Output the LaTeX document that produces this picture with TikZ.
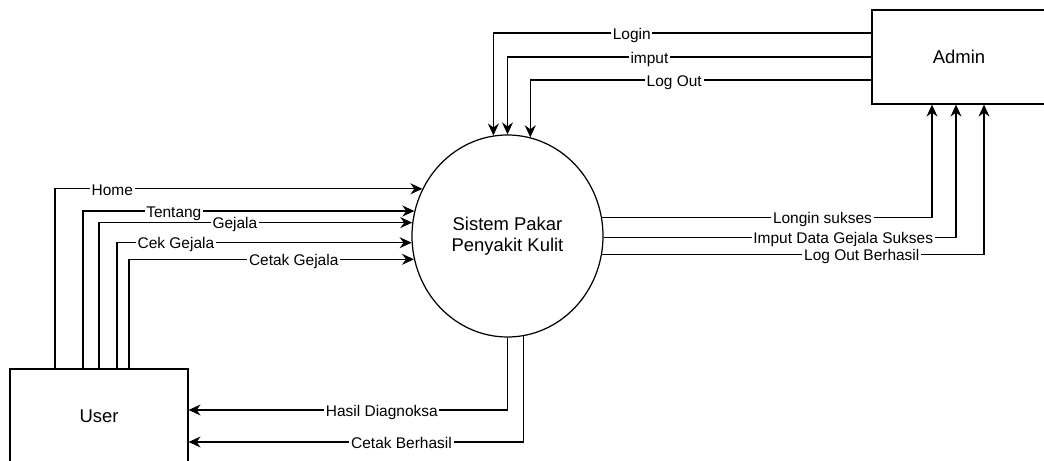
\documentclass[tikz,border=0pt]{standalone}
\usepackage{fontspec}
\setmainfont{Liberation Sans}
\usetikzlibrary{arrows.meta,positioning,shapes.geometric}
\tikzset{
  entity/.style={draw,line width=0.7pt,minimum width=3.56cm,minimum height=1.88cm,
    font=\fontsize{10.5}{12}\selectfont},
  process/.style={draw,ellipse,line width=0.7pt,minimum width=3.82cm,
    minimum height=4.04cm,inner sep=0pt,align=center,font=\fontsize{10.5}{12}\selectfont},
  flow/.style={-{Stealth[length=0.24cm,width=0.22cm,inset=0.08cm]},line width=0.7pt},
  lbl/.style={fill=white,inner sep=1pt,text height=0.74em,text depth=0.03em,
    font=\fontsize{8.8}{10}\selectfont}
}

\begin{document}
\begin{tikzpicture}
  \useasboundingbox (-10.15,-4.5) rectangle (10.73,4.72);
  \node[process] (sys) at (0,0) {Sistem Pakar\\Penyakit Kulit};
  \node[entity,minimum width=3.48cm] (admin) at (9.03,3.58) {Admin};
  \node[entity] (usr) at (-8.17,-3.6) {User};

  % user -> sistem
  \draw[flow] ([xshift=-0.88cm]usr.north) |- node[lbl,pos=0.578] {Home} (sys.151.58);
  \draw[flow] ([xshift=-0.32cm]usr.north) |- node[lbl,pos=0.637] {Tentang} (sys.165.5);
  \draw[flow] (usr.north) |- node[lbl,pos=0.717] {Gejala} (sys.172.8);
  \draw[flow] ([xshift=0.36cm]usr.north) |- node[lbl,pos=0.6] {Cek Gejala} (sys.184.2);
  \draw[flow] ([xshift=0.6cm]usr.north) |- node[lbl,pos=0.789] {Cetak Gejala} (sys.194.5);

  % admin -> sistem
  \draw[flow] ([yshift=0.48cm]admin.west) -| node[lbl,pos=0.317] {Login} (sys.98.26);
  \draw[flow] (admin.west) -| node[lbl,pos=0.305] {imput} (sys.north);
  \draw[flow] ([yshift=-0.46cm]admin.west) -| node[lbl,pos=0.289] {Log Out} (sys.77.09);

  % sistem -> admin
  \draw[flow] (sys.11.45) -| node[lbl,pos=0.334] {Longin sukses} ([xshift=-0.54cm]admin.south);
  \draw[flow] (sys.359.4) -| node[lbl,pos=0.34] {Imput Data Gejala Sukses} ([xshift=-0.06cm]admin.south);
  \draw[flow] (sys.349.16) -| node[lbl,pos=0.34] {Log Out Berhasil} ([xshift=0.5cm]admin.south);

  % sistem -> user
  \draw[flow] (sys.south) |- node[lbl,pos=0.697] {Hasil Diagnoksa} ([yshift=0.12cm]usr.east);
  \draw[flow] (sys.279.42) |- node[lbl,pos=0.682] {Cetak Berhasil} ([yshift=-0.52cm]usr.east);
\end{tikzpicture}
\end{document}
